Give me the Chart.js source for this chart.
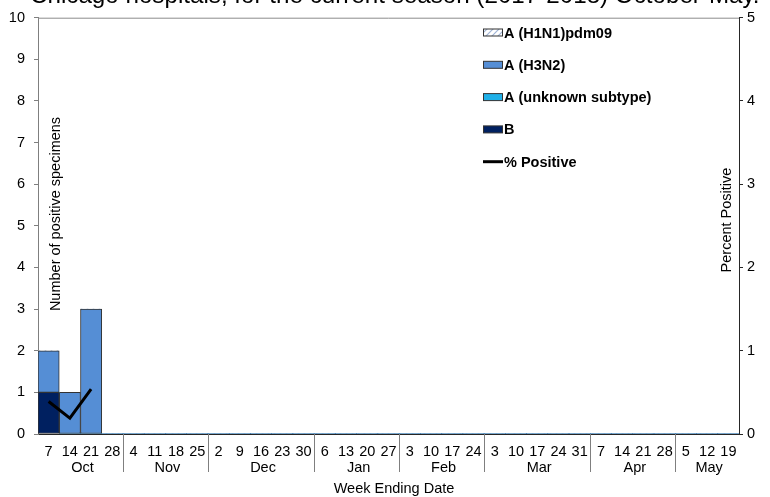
<!DOCTYPE html>
<html><head><meta charset="utf-8">
<script src="https://cdn.jsdelivr.net/npm/chart.js@4.4.0/dist/chart.umd.min.js"></script>
<style>html,body{margin:0;padding:0;background:#fff;overflow:hidden}#wrap{width:770px;height:497px;position:relative}</style>
</head><body><div id="wrap"><canvas id="c" width="770" height="497"></canvas></div>
<script>
const titleText = 'Chicago hospitals, for the current season (2017-2018) October-May.';
const weekLabels = ['7','14','21','28','4','11','18','25','2','9','16','23','30','6','13','20','27','3','10','17','24','3','10','17','24','31','7','14','21','28','5','12','19'];
const monthNames = ['Oct','Nov','Dec','Jan','Feb','Mar','Apr','May'];
const monthWeekCounts = [4,4,5,4,4,5,4,3];
const h1n1Vals    = [0,0,0,0,0,0,0,0,0,0,0,0,0,0,0,0,0,0,0,0,0,0,0,0,0,0,0,0,0,0,0,0,0];
const h3n2Vals    = [1,1,3,0,0,0,0,0,0,0,0,0,0,0,0,0,0,0,0,0,0,0,0,0,0,0,0,0,0,0,0,0,0];
const unknownVals = [0,0,0,0,0,0,0,0,0,0,0,0,0,0,0,0,0,0,0,0,0,0,0,0,0,0,0,0,0,0,0,0,0];
const bVals       = [1,0,0,0,0,0,0,0,0,0,0,0,0,0,0,0,0,0,0,0,0,0,0,0,0,0,0,0,0,0,0,0,0];
const pctPositive = [0.39,0.19,0.54,null,null,null,null,null,null,null,null,null,null,null,null,null,null,null,null,null,null,null,null,null,null,null,null,null,null,null,null,null,null];
const leftTicks = [0,1,2,3,4,5,6,7,8,9,10];
const rightTicks = [0,1,2,3,4,5];

const FONT = "'Liberation Sans', Arial, sans-serif";
const C_H3N2 = '#558ed5';
const C_UNK = '#1fb0e8';
const C_B = '#002060';
const C_BORDER = '#333333';

function hatch() {
  const p = document.createElement('canvas');
  p.width = 6; p.height = 6;
  const g = p.getContext('2d');
  g.fillStyle = '#ffffff'; g.fillRect(0,0,6,6);
  g.strokeStyle = '#9fb4d6'; g.lineWidth = 1.2;
  g.beginPath(); g.moveTo(0,6); g.lineTo(6,0); g.moveTo(-3,3); g.lineTo(3,-3); g.moveTo(3,9); g.lineTo(9,3); g.stroke();
  return document.getElementById('c').getContext('2d').createPattern(p,'repeat');
}
const H1N1_FILL = hatch();

const bw = ctx => (ctx.raw ? 1 : 0);
const barCommon = { borderColor: C_BORDER, borderWidth: bw, borderSkipped: false, barPercentage: 1, categoryPercentage: 1, yAxisID: 'y', order: 1 };

const legendItems = [
  {label:'A (H1N1)pdm09', fill:H1N1_FILL},
  {label:'A (H3N2)', fill:C_H3N2},
  {label:'A (unknown subtype)', fill:C_UNK},
  {label:'B', fill:C_B},
  {label:'% Positive', line:true}
];

const decor = {
  id: 'decor',
  afterDraw(chart) {
    const ctx = chart.ctx, a = chart.chartArea, xs = chart.scales.x;
    ctx.save();
    // top border
    ctx.strokeStyle = '#8c8c8c'; ctx.lineWidth = 1;
    ctx.beginPath(); ctx.moveTo(a.left, a.top + 0.5); ctx.lineTo(a.right, a.top + 0.5); ctx.stroke();
    // clipped title
    let fs = 21;
    ctx.font = fs + 'px ' + FONT;
    const w = ctx.measureText(titleText).width;
    fs = fs * 730 / w;
    ctx.font = fs + 'px ' + FONT;
    ctx.fillStyle = '#000'; ctx.textBaseline = 'alphabetic'; ctx.textAlign = 'left';
    ctx.fillText(titleText, 30, 3);
    // month separators & labels
    let idx = 0;
    ctx.strokeStyle = '#7f7f7f'; ctx.lineWidth = 1;
    ctx.font = '14.5px ' + FONT; ctx.textAlign = 'center'; ctx.textBaseline = 'middle';
    const half = (xs.getPixelForValue(1) - xs.getPixelForValue(0)) / 2;
    monthWeekCounts.forEach((n, m) => {
      const x0 = xs.getPixelForValue(idx) - half;
      const x1 = xs.getPixelForValue(idx + n - 1) + half;
      if (m > 0) {
        const xx = Math.round(x0) + 0.5;
        ctx.beginPath(); ctx.moveTo(xx, a.bottom); ctx.lineTo(xx, a.bottom + 38); ctx.stroke();
      }
      ctx.fillText(monthNames[m], (x0 + x1) / 2 + 2, a.bottom + 34);
      idx += n;
    });
    // axis titles
    ctx.fillStyle = '#000';
    ctx.fillText('Week Ending Date', 394, 489);
    ctx.save(); ctx.translate(56, 214); ctx.rotate(-Math.PI/2); ctx.fillText('Number of positive specimens', 0, 0); ctx.restore();
    ctx.save(); ctx.translate(727, 220); ctx.rotate(-Math.PI/2); ctx.fillText('Percent Positive', 0, 0); ctx.restore();
    // legend
    ctx.font = 'bold 14.5px ' + FONT; ctx.textAlign = 'left';
    legendItems.forEach((it, i) => {
      const cy = 32.5 + i * 32.3;
      if (it.line) {
        ctx.strokeStyle = '#000'; ctx.lineWidth = 3;
        ctx.beginPath(); ctx.moveTo(483, cy); ctx.lineTo(503, cy); ctx.stroke();
      } else {
        ctx.fillStyle = it.fill; ctx.fillRect(483, cy - 3.5, 20, 7);
        ctx.strokeStyle = C_BORDER; ctx.lineWidth = 1; ctx.strokeRect(483.5, cy - 3.5, 19, 7);
      }
      ctx.fillStyle = '#000'; ctx.fillText(it.label, 504, cy + 1);
    });
    ctx.restore();
  }
};

new Chart(document.getElementById('c'), {
  type: 'bar',
  data: {
    labels: weekLabels,
    datasets: [
      { type:'line', label:'% Positive', data:pctPositive, yAxisID:'y2', borderColor:'#000', borderWidth:3, pointRadius:0, tension:0, spanGaps:false, fill:false, order:0 },
      Object.assign({ label:'B', data:bVals, backgroundColor:C_B }, barCommon),
      Object.assign({ label:'A (unknown subtype)', data:unknownVals, backgroundColor:C_UNK }, barCommon),
      Object.assign({ label:'A (H3N2)', data:h3n2Vals, backgroundColor:C_H3N2 }, barCommon),
      Object.assign({ label:'A (H1N1)pdm09', data:h1n1Vals, backgroundColor:H1N1_FILL }, barCommon)
    ]
  },
  options: {
    responsive:false, animation:false, devicePixelRatio:1,
    layout:{ padding:{ top:9, left:0, right:0, bottom:0 } },
    plugins:{ legend:{display:false}, tooltip:{enabled:false}, title:{display:false} },
    scales:{
      x:{
        stacked:true, offset:true,
        grid:{ display:false, drawTicks:false },
        border:{ display:true, color:'#262626', width:1 },
        ticks:{ autoSkip:false, maxRotation:0, minRotation:0, padding:9, color:'#000', font:{ family:FONT, size:14.5 } },
        afterFit(s){ s.height = 63; }
      },
      y:{
        stacked:true, position:'left', min:0, max:10,
        afterBuildTicks(s){ s.ticks = leftTicks.map(v => ({value:v})); },
        grid:{ drawOnChartArea:false, drawTicks:true, tickLength:4, color:'#7f7f7f' },
        border:{ display:true, color:'#7f7f7f', width:1 },
        ticks:{ padding:9, color:'#000', font:{ family:FONT, size:14.5 } },
        afterFit(s){ s.width = 38; }
      },
      y2:{
        position:'right', min:0, max:5, stacked:false,
        afterBuildTicks(s){ s.ticks = rightTicks.map(v => ({value:v})); },
        grid:{ drawOnChartArea:false, drawTicks:true, tickLength:4, color:'#262626' },
        border:{ display:true, color:'#262626', width:1 },
        ticks:{ padding:4, color:'#000', font:{ family:FONT, size:14.5 } },
        afterFit(s){ s.width = 31; }
      }
    }
  },
  plugins:[decor]
});
</script></body></html>
